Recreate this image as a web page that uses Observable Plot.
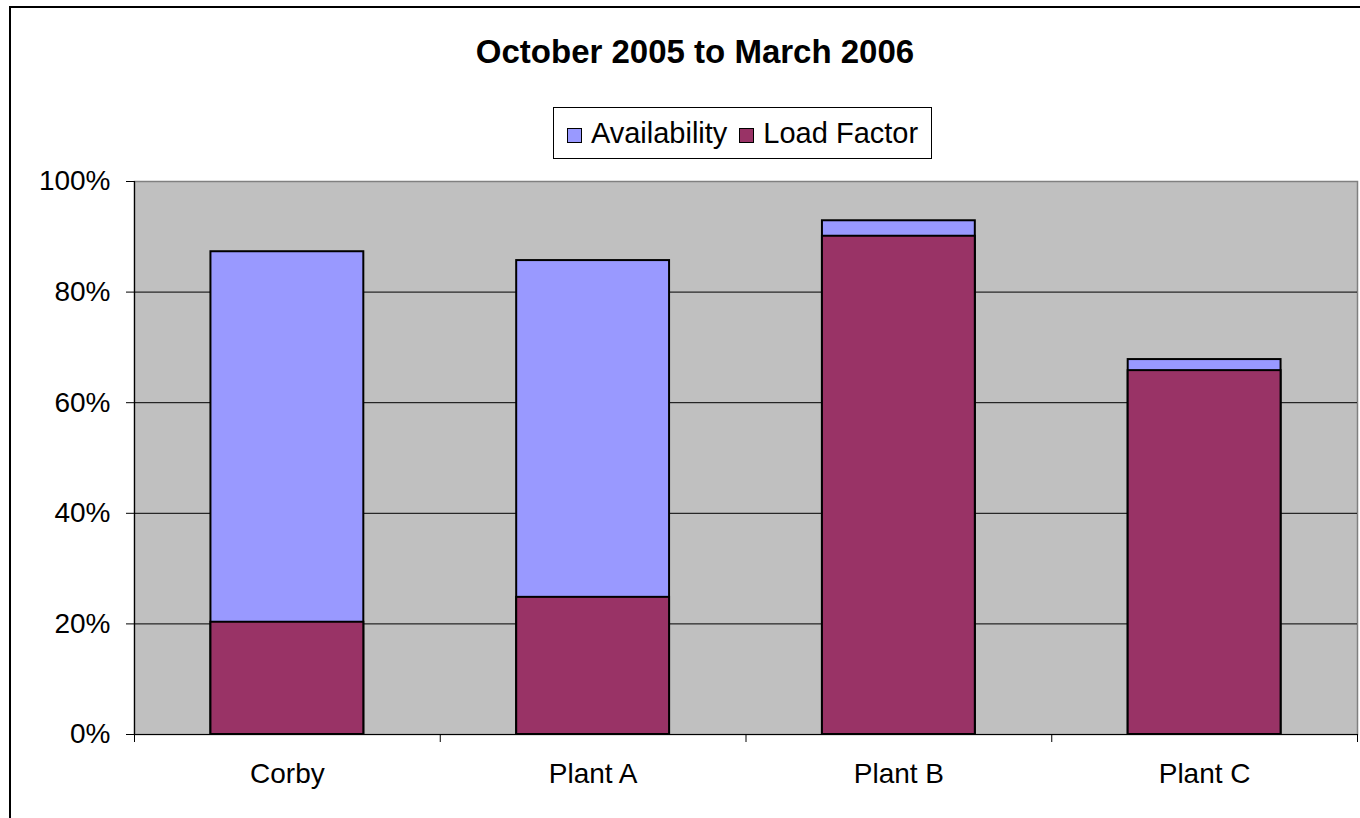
<!DOCTYPE html>
<html>
<head>
<meta charset="utf-8">
<script src="https://cdn.jsdelivr.net/npm/d3@7"></script>
<script src="https://cdn.jsdelivr.net/npm/@observablehq/plot@0.6"></script>
<style>
  html, body { margin: 0; padding: 0; background: #fff; overflow: hidden; width: 1360px; height: 818px; }
  #frame { position: absolute; left: 9px; top: 6px; width: 1400px; height: 900px; border-left: 2px solid #000; border-top: 2px solid #000; }
  #title { position: absolute; left: 0; width: 1390px; top: 33px; text-align: center; font-family: "Liberation Sans", Arial, sans-serif; font-weight: bold; font-size: 33px; color: #000; }
  #legend { position: absolute; left: 553px; top: 107px; width: 377px; height: 50px; border: 1px solid #000; background: #fff; font-family: "Liberation Sans", Arial, sans-serif; font-size: 29px; color: #000; display: flex; align-items: center; justify-content: center; gap: 0; }
  .sw { display: inline-block; width: 13px; height: 13px; border: 1.5px solid #000; margin-right: 9px; margin-top: 4px; }
  .item { display: flex; align-items: center; margin: 0 6px; }
  #chart { position: absolute; left: 0; top: 165px; }
</style>
</head>
<body>
<div id="frame"></div>
<div id="title"></div>
<div id="legend"></div>
<div id="chart"></div>
<script>
const title = "October 2005 to March 2006";
const categories = ["Corby", "Plant A", "Plant B", "Plant C"];
const seriesNames = ["Availability", "Load Factor"];
const seriesColors = ["#9999FF", "#993366"];
const availability = [87.3, 85.7, 92.9, 67.8];
const loadFactor = [20.3, 24.8, 90.1, 65.8];
const yTicks = [0, 20, 40, 60, 80, 100];

document.getElementById("title").textContent = title;
const legend = document.getElementById("legend");
seriesNames.forEach((name, i) => {
  const item = document.createElement("span");
  item.className = "item";
  const sw = document.createElement("span");
  sw.className = "sw";
  sw.style.background = seriesColors[i];
  item.appendChild(sw);
  item.appendChild(document.createTextNode(name));
  legend.appendChild(item);
});

const rows = categories.map((c, i) => ({
  category: c, idx: i, availability: availability[i], loadFactor: loadFactor[i]
}));

const chart = Plot.plot({
  width: 1360,
  height: 653,
  marginLeft: 134,
  marginRight: 3,
  marginTop: 16,
  marginBottom: 84,
  style: { fontFamily: "'Liberation Sans', Arial, sans-serif", fontSize: "28px", color: "#000", background: "transparent" },
  x: { type: "linear", domain: [0, categories.length] },
  y: { domain: [0, 100] },
  marks: [
    Plot.frame({ fill: "#C0C0C0", stroke: "#808080", strokeWidth: 1.5 }),
    Plot.gridY([20, 40, 60, 80], { stroke: "#000", strokeOpacity: 1, strokeWidth: 1 }),
    Plot.rectY(rows, { x1: d => d.idx + 0.25, x2: d => d.idx + 0.75, y1: 0, y2: "availability", fill: seriesColors[0], stroke: "#000", strokeWidth: 2 }),
    Plot.rectY(rows, { x1: d => d.idx + 0.25, x2: d => d.idx + 0.75, y1: 0, y2: "loadFactor", fill: seriesColors[1], stroke: "#000", strokeWidth: 2 }),
    Plot.ruleX([0], { stroke: "#000", strokeWidth: 1.2 }),
    Plot.ruleY([0], { stroke: "#000", strokeWidth: 1.2 }),
    Plot.axisY({ ticks: yTicks, tickSize: 8, tickPadding: 16, tickFormat: d => d + "%", label: null, stroke: "#000" }),
    Plot.axisX({ ticks: d3.range(0, categories.length + 1), tickSize: 8, tickFormat: () => "", label: null, stroke: "#000" }),
    Plot.axisX({ ticks: categories.map((c, i) => i + 0.5), tickSize: 0, tickPadding: 29, tickFormat: d => categories[Math.floor(d)], label: null })
  ]
});
document.getElementById("chart").appendChild(chart);
</script>
</body>
</html>
